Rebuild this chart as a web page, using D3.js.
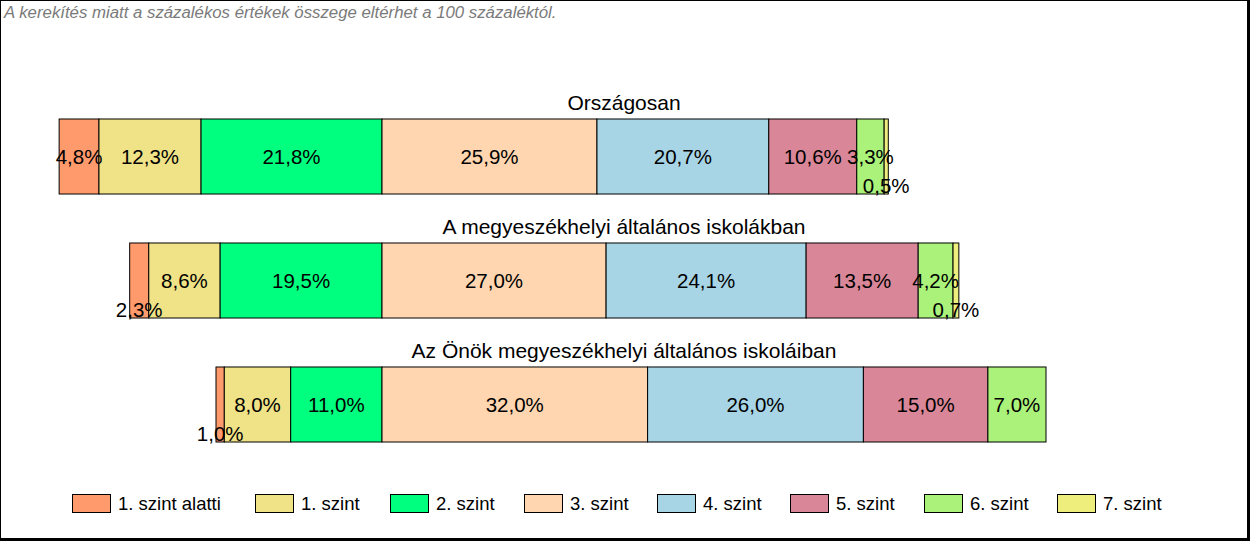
<!DOCTYPE html>
<html>
<head>
<meta charset="utf-8">
<script src="https://cdn.jsdelivr.net/npm/d3@7"></script>
<style>
  body { margin: 0; background: #fff; }
  svg { display: block; font-family: "Liberation Sans", Arial, sans-serif; }
</style>
</head>
<body>
<script>
// data
var groups = ['Országosan', 'A megyeszékhelyi általános iskolákban', 'Az Önök megyeszékhelyi általános iskoláiban'];
var levels = ['1. szint alatti', '1. szint', '2. szint', '3. szint', '4. szint', '5. szint', '6. szint', '7. szint'];
var colors = ['#ff9a6c', '#efe287', '#00ff7f', '#ffd6b0', '#a8d5e5', '#d98798', '#aaf27a', '#eeee7c'];
var orszagos = [4.8, 12.3, 21.8, 25.9, 20.7, 10.6, 3.3, 0.5];
var megyeszekhely = [2.3, 8.6, 19.5, 27.0, 24.1, 13.5, 4.2, 0.7];
var onok = [1.0, 8.0, 11.0, 32.0, 26.0, 15.0, 7.0, 0];
var values = [orszagos, megyeszekhely, onok];
var note = 'A kerekítés miatt a  százalékos értékek összege eltérhet a 100 százaléktól.';

var W = 1250, H = 541;
var svg = d3.select('body').append('svg').attr('width', W).attr('height', H);

svg.append('rect').attr('x', 0.5).attr('y', 0.5).attr('width', W - 2).attr('height', H - 2)
  .style('fill', '#fff').style('stroke', '#000');
// heavier right / bottom edge
svg.append('rect').attr('x', W - 3).attr('y', 0).attr('width', 3).attr('height', H).style('fill', '#000');
svg.append('rect').attr('x', 0).attr('y', H - 3).attr('width', W).attr('height', 3).style('fill', '#000');

svg.append('text').attr('x', 4).attr('y', 18).text(note)
  .style('font-size', '16.8px').style('font-style', 'italic').style('fill', '#7a7a7a');

// bars are centred on the boundary between level 2 and level 3
var x = d3.scaleLinear().domain([-40, 100]).range([50, 1212]);
var y = d3.scaleBand().domain(groups).range([94.2, 466.8]).paddingInner(0.395).paddingOuter(0.2);

var fmt = function (v) { return d3.format('.1f')(v).replace('.', ',') + '%'; };

groups.forEach(function (g, gi) {
  var vals = values[gi];
  var start = -(vals[0] + vals[1] + vals[2]);
  var segs = [];
  var acc = start;
  vals.forEach(function (v, i) {
    segs.push({ v: v, x0: acc, x1: acc + v, c: colors[i] });
    acc += v;
  });
  segs = segs.filter(function (d) { return d.v > 0; });

  var row = svg.append('g').attr('class', 'row');
  var y0 = y(g), bh = y.bandwidth();

  row.append('text')
    .attr('x', 624).attr('y', y0 - 9)
    .attr('text-anchor', 'middle')
    .style('font-size', '21px')
    .text(g);

  row.selectAll('rect').data(segs).enter().append('rect')
    .attr('x', function (d) { return x(d.x0); })
    .attr('y', y0)
    .attr('width', function (d) { return x(d.x1) - x(d.x0); })
    .attr('height', bh)
    .style('fill', function (d) { return d.c; })
    .style('stroke', '#000')
    .style('stroke-width', 1);

  row.selectAll('text.lbl').data(segs).enter().append('text')
    .attr('class', 'lbl')
    .attr('x', function (d) { return (x(d.x0) + x(d.x1)) / 2; })
    .attr('y', function (d) { return d.v < 3 ? y0 + bh - 8 : y0 + bh / 2; })
    .attr('dy', '.35em')
    .attr('text-anchor', 'middle')
    .style('font-size', '20.5px')
    .text(function (d) { return fmt(d.v); });
});

// legend
var lx = [72, 255, 390, 524, 657, 790, 924, 1057];
var leg = svg.append('g').attr('class', 'legend');
levels.forEach(function (l, i) {
  leg.append('rect').attr('x', lx[i] + 0.5).attr('y', 494.5).attr('width', 38).attr('height', 18)
    .style('fill', colors[i]).style('stroke', '#000');
  leg.append('text').attr('x', lx[i] + 46).attr('y', 510).text(l).style('font-size', '18.5px');
});
</script>
</body>
</html>
